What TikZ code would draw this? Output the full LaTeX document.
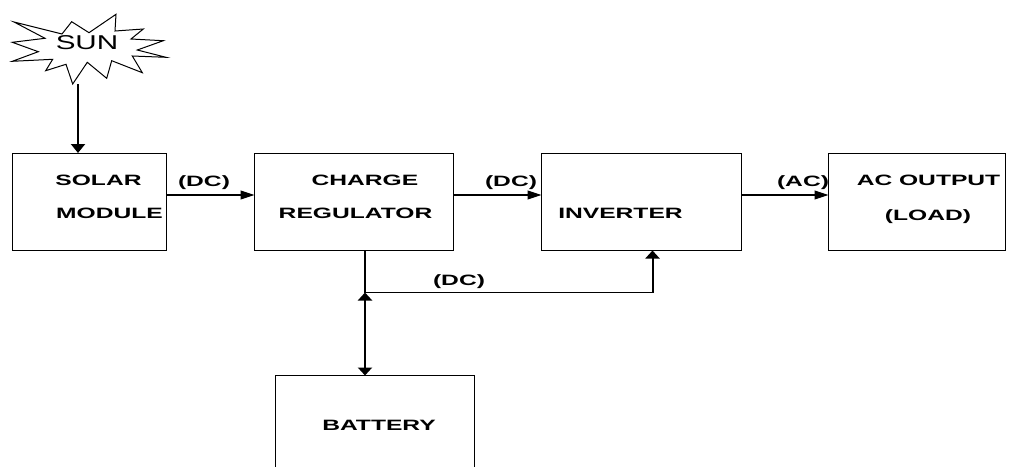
\documentclass[tikz,border=0pt]{standalone}
\usepackage{fontspec}
\setmainfont{Liberation Sans}
\newfontfamily\lblfont[FakeStretch=1.64]{Liberation Sans}
\newfontfamily\sunfont[FakeStretch=1.48]{Liberation Sans}
\usetikzlibrary{arrows.meta}
\tikzset{
  x=1pt,y=-1pt,
  blockbox/.style={draw=black,line width=1.2pt,inner sep=0pt,outer sep=0pt,anchor=north west},
  lbl/.style={font=\fontsize{15}{15}\lblfont\bfseries,inner sep=0pt},
  sunlbl/.style={font=\fontsize{20}{20}\sunfont,inner sep=0pt},
  flow/.style={draw=black,line width=1.1pt,-{Triangle[length=14pt,width=9pt]}},
  heavy/.style={draw=black,line width=2pt},
}
\begin{document}
\begin{tikzpicture}
\useasboundingbox (0,0) rectangle (1016,466);
\clip (0,0) rectangle (1016,466);
\node[blockbox,minimum width=154pt,minimum height=97pt] (solar) at (12.5,153.5) {};
\node[blockbox,minimum width=199pt,minimum height=97pt] (charge) at (254.5,153.5) {};
\node[blockbox,minimum width=200pt,minimum height=97pt] (inv) at (541.5,153.5) {};
\node[blockbox,minimum width=177pt,minimum height=97pt] (ac) at (828.5,153.5) {};
\node[blockbox,minimum width=199pt,minimum height=150pt] (bat) at (275.5,375.5) {};
\draw[black,line width=1pt,fill=white] (14,22)--(62,34)--(71.7,21.7)--(89,32.7)--(116,14.3)--(115,31)--(143.3,29)--(131,39)--(163.3,40.7)--(137.3,50)--(166,57.3)--(132.3,56)--(142.3,72.7)--(111.7,60.7)--(106.7,78.3)--(87.3,62.3)--(72.7,84)--(66,64.3)--(45.7,70.7)--(52.7,59.3)--(12.3,61.3)--(38.3,51.7)--(12.3,42.3)--(45,38.3)--cycle;
\node[sunlbl] (sun) at (87,42.5) {SUN};
\coordinate (suntip) at (78,84);
\coordinate (solartop) at (78,153);
\node[lbl] (t1) at (98.5,180.5) {SOLAR};
\node[lbl] (t2) at (109.5,213) {MODULE};
\node[lbl] (t3) at (365,180.5) {CHARGE};
\node[lbl] (t4) at (355.5,213) {REGULATOR};
\node[lbl] (t5) at (620.5,213) {INVERTER};
\node[lbl] (t6) at (928.5,180.5) {AC OUTPUT};
\node[lbl] (t7) at (928,217) {(LOAD)};
\node[lbl] (t8) at (379,425) {BATTERY};
\node[lbl] (l1) at (204,182.5) {(DC)};
\node[lbl] (l2) at (511,182.5) {(DC)};
\node[lbl] (l3) at (459,282) {(DC)};
\node[lbl] (l4) at (803,182.5) {(AC)};
\coordinate (row) at (0,195);
\coordinate (j) at (365,292.5);
\coordinate (k) at (652.5,292.5);
\path[heavy,-{Triangle[length=9pt,width=14pt]}] (suntip) -- (solartop);
\path[flow] (solar.east |- row) -- (charge.west |- row);
\path[flow] (charge.east |- row) -- (inv.west |- row);
\path[flow] (inv.east |- row) -- (ac.west |- row);
\draw[heavy] (charge.south -| j) -- (j);
\draw[line width=1.2pt] (j) -- (k);
\path[heavy,-{Triangle[length=8pt,width=14pt]}] (k) -- (k |- inv.south);
\path[heavy,{Triangle[length=8pt,width=14pt]}-{Triangle[length=8pt,width=14pt]}] (j) -- (j |- bat.north);
\end{tikzpicture}
\end{document}
